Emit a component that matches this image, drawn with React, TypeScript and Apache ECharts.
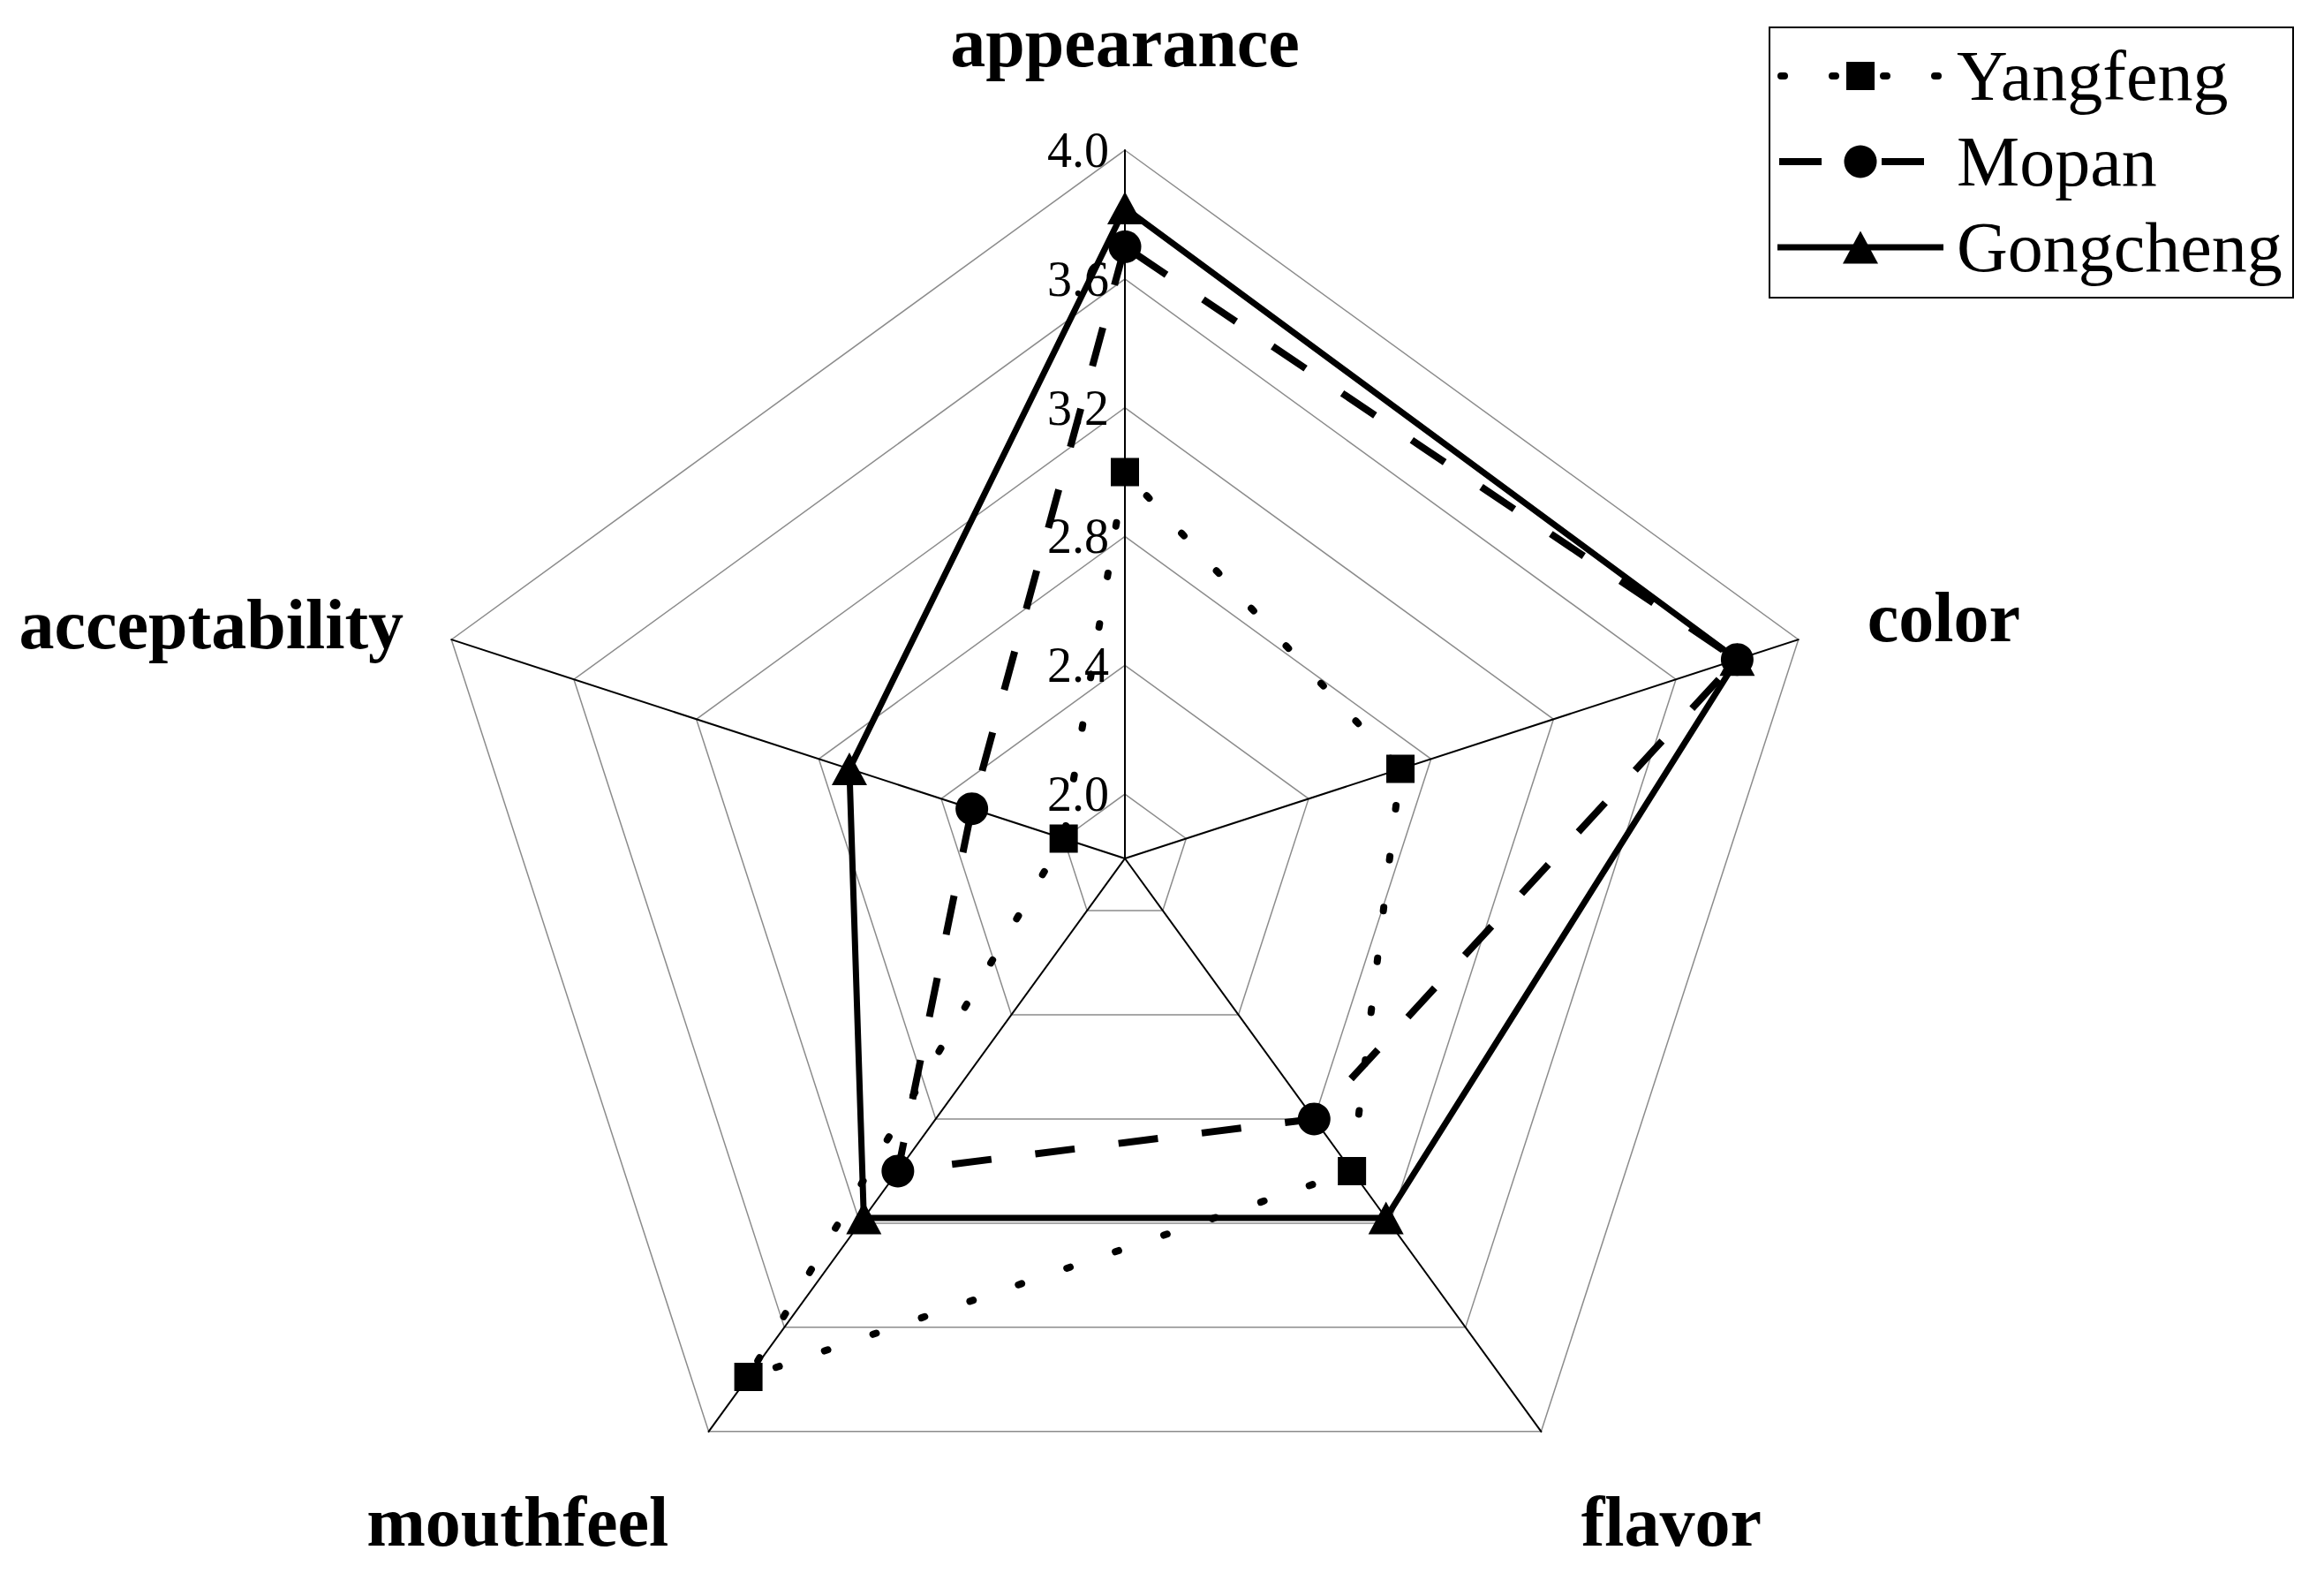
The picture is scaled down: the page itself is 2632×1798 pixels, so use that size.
import React, { useEffect, useRef } from "react";
import * as echarts from "echarts";

// ---- data ----
const indicatorNames = ["appearance", "color", "flavor", "mouthfeel", "acceptability"];
const axisMin = 1.8;
const axisMax = 4.0;
const tickLabels = ["2.0", "2.4", "2.8", "3.2", "3.6", "4.0"];
const seriesNames = ["Yangfeng", "Mopan", "Gongcheng"];
const yangfeng = [3.0, 2.7, 3.0, 3.79, 2.0];
const mopan = [3.7, 3.8, 2.8, 3.0, 2.3];
const gongcheng = [3.82, 3.8, 3.18, 3.18, 2.7];

const FONT = "'Liberation Serif', 'Times New Roman', serif";

// ECharts places radar indicators counter-clockwise from the top;
// the reference runs clockwise, so reorder.
const ccwOrder = [0, 4, 3, 2, 1];
const reorder = (arr: any[]) => ccwOrder.map((i) => arr[i]);

const nameLayout: Record<string, any> = {
  appearance: { nameGap: 82, nameTextStyle: { align: "center", verticalAlign: "bottom" } },
  color: { nameGap: 82, nameTextStyle: { align: "left", verticalAlign: "middle" } },
  flavor: { nameGap: 77, nameTextStyle: { align: "left", verticalAlign: "top" } },
  mouthfeel: { nameGap: 77, nameTextStyle: { align: "right", verticalAlign: "top" } },
  acceptability: { nameGap: 57, nameTextStyle: { align: "right", verticalAlign: "middle" } },
};

export default function App() {
  const ref = useRef<HTMLDivElement>(null);
  useEffect(() => {
    document.body.style.margin = "0";
    if (!ref.current) return;
    const chart = echarts.init(ref.current, undefined, { renderer: "svg" });

    const indicators = reorder(indicatorNames).map((name: string) => ({
      name,
      min: axisMin,
      max: axisMax,
      nameGap: nameLayout[name].nameGap,
      nameTextStyle: nameLayout[name].nameTextStyle,
      axisLabel:
        name === "appearance"
          ? {
              show: true,
              fontSize: 56,
              fontFamily: FONT,
              color: "#000",
              margin: 18,
              formatter: (v: number) => {
                const s = Number(v).toFixed(1);
                return tickLabels.includes(s) ? s : "";
              },
            }
          : { show: false },
    }));

    const lx1 = 2013;
    const lx2 = 2201;
    const mx = 2107;
    const rows = [86, 183, 280];

    chart.setOption({
      animation: false,
      backgroundColor: "#fff",
      radar: {
        center: [1274, 972],
        radius: 802,
        startAngle: 90,
        shape: "polygon",
        splitNumber: 11,
        indicator: indicators,
        axisName: {
          color: "#000",
          fontFamily: FONT,
          fontWeight: "bold",
          fontSize: 80,
        },
        axisLine: { lineStyle: { color: "#000", width: 2 } },
        axisTick: { show: false },
        axisLabel: { show: false },
        splitLine: {
          lineStyle: { color: ["rgba(0,0,0,0)", "#8c8c8c"], width: 1.5 },
        },
        splitArea: { show: false },
      },
      series: [
        {
          type: "radar",
          name: seriesNames[0],
          symbol: "rect",
          symbolSize: 32,
          itemStyle: { color: "#000" },
          lineStyle: { color: "#000", width: 8, type: [4, 54], cap: "round" },
          data: [{ name: seriesNames[0], value: reorder(yangfeng) }],
          z: 2,
        },
        {
          type: "radar",
          name: seriesNames[1],
          symbol: "circle",
          symbolSize: 37,
          itemStyle: { color: "#000" },
          lineStyle: { color: "#000", width: 8, type: [45, 50] },
          data: [{ name: seriesNames[1], value: reorder(mopan) }],
          z: 3,
        },
        {
          type: "radar",
          name: seriesNames[2],
          symbol: "triangle",
          symbolSize: [40, 37],
          itemStyle: { color: "#000" },
          lineStyle: { color: "#000", width: 7, type: "solid" },
          data: [{ name: seriesNames[2], value: reorder(gongcheng) }],
          z: 4,
        },
      ],
      graphic: [
        {
          type: "rect",
          shape: { x: 2004, y: 31, width: 593, height: 306 },
          style: { fill: "#fff", stroke: "#000", lineWidth: 2 },
          z: 10,
        },
        {
          type: "line",
          shape: { x1: 2017, y1: rows[0], x2: lx2, y2: rows[0] },
          style: { stroke: "#000", lineWidth: 8, lineDash: [4, 54], lineCap: "round" },
          z: 11,
        },
        {
          type: "rect",
          shape: { x: mx - 16, y: rows[0] - 16, width: 32, height: 32 },
          style: { fill: "#000" },
          z: 12,
        },
        {
          type: "line",
          shape: { x1: 2015, y1: rows[1], x2: 2180, y2: rows[1] },
          style: { stroke: "#000", lineWidth: 8, lineDash: [48, 68] },
          z: 11,
        },
        {
          type: "circle",
          shape: { cx: mx, cy: rows[1], r: 18.5 },
          style: { fill: "#000" },
          z: 12,
        },
        {
          type: "line",
          shape: { x1: lx1, y1: rows[2], x2: lx2, y2: rows[2] },
          style: { stroke: "#000", lineWidth: 7 },
          z: 11,
        },
        {
          type: "polygon",
          shape: {
            points: [
              [mx, rows[2] - 18.5],
              [mx - 20, rows[2] + 18.5],
              [mx + 20, rows[2] + 18.5],
            ],
          },
          style: { fill: "#000" },
          z: 12,
        },
        ...seriesNames.map((n, i) => ({
          type: "text",
          x: 2216,
          y: rows[i],
          style: {
            text: n,
            fill: "#000",
            font: `80px ${FONT}`,
            textVerticalAlign: "middle",
            verticalAlign: "middle",
          },
          z: 12,
        })),
      ],
    });
    return () => chart.dispose();
  }, []);
  return <div ref={ref} style={{ width: 2632, height: 1798 }} />;
}
